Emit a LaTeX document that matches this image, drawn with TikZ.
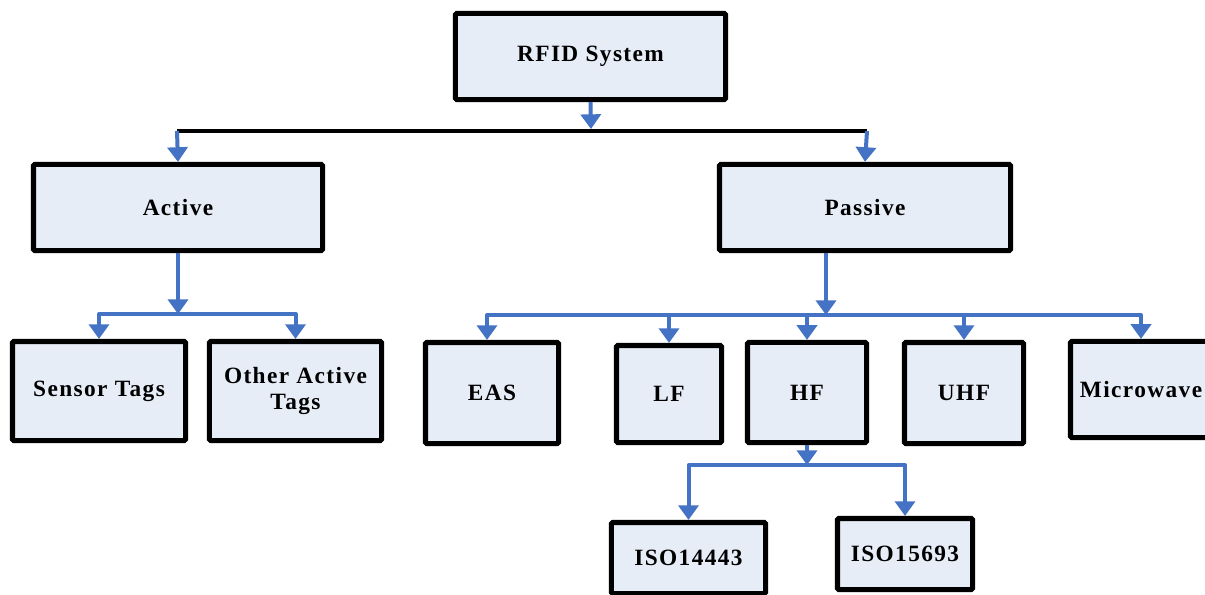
\documentclass[tikz,border=0pt]{standalone}
\usepackage{fontspec}
\setmainfont{Liberation Serif}[LetterSpace=6]
\usetikzlibrary{arrows.meta}
\definecolor{boxfill}{HTML}{E7EDF7}
\definecolor{conblue}{HTML}{4472C4}
\begin{document}
\begin{tikzpicture}[x=0.75pt,y=-0.75pt,
  blk/.style={draw=black, fill=boxfill, line width=3.8pt, rounded corners=1pt,
    inner sep=0pt, font=\fontsize{17.5}{19}\selectfont\bfseries, align=center},
  con/.style={draw=conblue, line width=3pt, line join=round,
    -{Triangle[width=15pt,length=11pt]}},
  bar/.style={draw=black, line width=3.6pt, line join=round}]
\useasboundingbox (0,0) rectangle (1205,594);
\clip (0,0) rectangle (1205,594);
% boxes
\node[blk, minimum width=202.6pt, minimum height=64.6pt] (rfid) at (590.5,56.5) {RFID System};
\node[blk, minimum width=216.8pt, minimum height=64.6pt] (active) at (178,207.5) {Active};
\node[blk, minimum width=218.3pt, minimum height=64.6pt] (passive) at (865,207.5) {Passive};
\node[blk, minimum width=129.8pt, minimum height=74.3pt] (sensor) at (99,391) {Sensor Tags};
\node[blk, minimum width=129.1pt, minimum height=74.3pt] (other) at (295.5,391) {Other Active\\Tags};
\node[blk, minimum width=99.8pt, minimum height=75.8pt] (eas) at (492,393) {EAS};
\node[blk, minimum width=78.8pt, minimum height=72.8pt] (lf) at (669,394) {LF};
\node[blk, minimum width=89.3pt, minimum height=75.1pt] (hf) at (807,392.5) {HF};
\node[blk, minimum width=89.3pt, minimum height=75.8pt] (uhf) at (964,393) {UHF};
\node[blk, minimum width=105.8pt, minimum height=72.1pt] (micro) at (1141,389.5) {Microwave};
\node[blk, minimum width=115.6pt, minimum height=53.3pt] (iso1) at (688.5,558) {ISO14443};
\node[blk, minimum width=101.3pt, minimum height=53.3pt] (iso2) at (905,554) {ISO15693};
% junction coordinates
\coordinate (rj) at (591,129);
\coordinate (bl) at (177,131);
\coordinate (br) at (867,131);
\coordinate (aj) at (178,314);
\coordinate (pj) at (826,315);
\coordinate (hj) at (807,465);
% connectors
\draw[bar] (bl) -- (br);
\draw[con] (rfid.south) -- (rj);
\draw[con] (bl) -- (active.north);
\draw[con] (br) -- (passive.north);
\draw[con] (active.south) -- (aj);
\draw[con] (aj) -| (sensor.north);
\draw[con] (aj) -| (other.north);
\draw[con] (passive.south -| pj) -- (pj);
\draw[con] (pj) -| ([xshift=-3.75pt]eas.north);
\draw[con] (pj) -| (lf.north);
\draw[con] (pj) -| (hf.north);
\draw[con] (pj) -| (uhf.north);
\draw[con] (pj) -| (micro.north);
\draw[con] (hf.south) -- (hj);
\draw[con] (hj) -| (iso1.north);
\draw[con] (hj) -| (iso2.north);
\end{tikzpicture}
\end{document}
